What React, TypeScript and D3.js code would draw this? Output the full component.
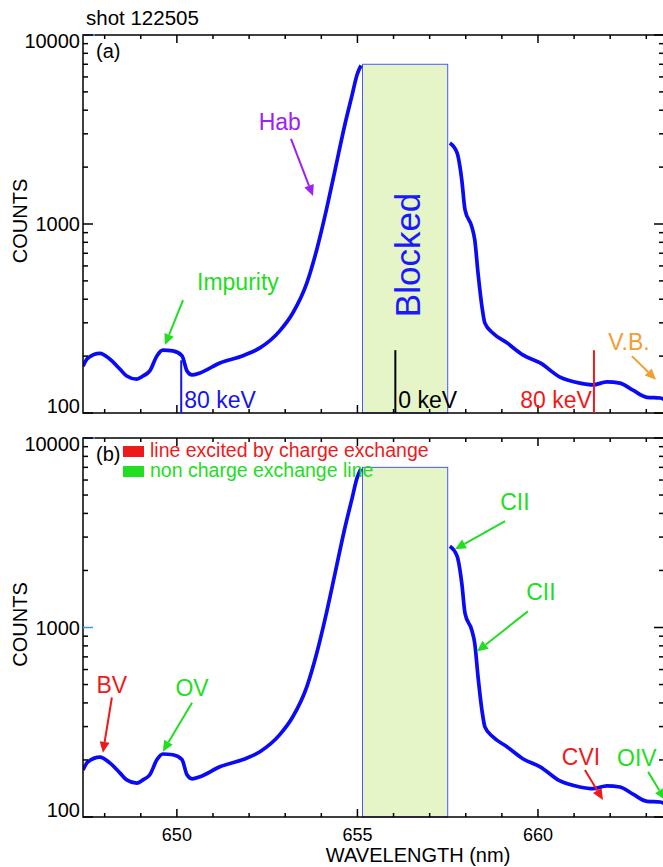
import React, { useEffect, useRef } from 'react';
import * as d3 from 'd3';

// spectrum (nm, counts); null = hidden behind the blocked band
const wavelength = [
  647.40, 647.53, 647.87, 648.14, 648.42, 648.61, 648.89, 649.06, 649.25, 649.45,
  649.61, 649.89, 650.14, 650.28, 650.42, 650.64, 651.19, 651.83, 652.30, 652.85,
  653.21, 653.60, 653.88, 654.10, 654.38, 654.65, 654.85, 654.99, 655.10, 656.30,
  657.56, 657.76, 657.89, 657.98, 658.17, 658.25, 658.34, 658.45, 658.53, 658.75,
  659.14, 659.58, 660.06, 660.61, 661.16, 661.52, 661.91, 662.27, 662.63, 663.02,
  663.38, 663.49,
];
const counts: (number | null)[] = [
  177, 195, 207, 193, 171, 157, 151, 157, 167, 201,
  215, 213, 201, 167, 159, 163, 184, 201, 221, 272,
  338, 488, 740, 1100, 1930, 3340, 4790, 6160, 6900, null,
  2683, 2377, 1710, 1187, 964, 822, 550, 364, 299, 265,
  235, 203, 184, 155, 144, 141, 146, 144, 132, 121,
  120, 118,
];

const blockedRange = [655.14, 657.5];
const blockedTop = 7000;

const xMajor = [650, 655, 660];
const xMinor = [648, 649, 651, 652, 653, 654, 656, 657, 658, 659, 661, 662, 663];
const yMajor = [100, 1000, 10000];
const yMinor = [200, 300, 400, 500, 600, 700, 800, 900, 2000, 3000, 4000, 5000, 6000, 7000, 8000, 9000];

// beam emission positions in panel (a)
const beamLines = [
  { lam: 650.12, top: 190, label: '80 keV', color: '#1515e8', anchor: 'start' },
  { lam: 656.05, top: 215, label: '0 keV', color: '#000000', anchor: 'start' },
  { lam: 661.55, top: 215, label: '80 keV', color: '#ee1a1a', anchor: 'end' },
];

// annotations: label pos, arrow tail, arrow tip (nm, counts)
const notesA = [
  { text: 'Hab', color: '#a020f0', label: [652.85, 3140], tail: [653.16, 2818], tip: [653.77, 1406], anchor: 'middle' },
  { text: 'Impurity', color: '#22dd22', label: [651.69, 448], tail: [650.17, 396], tip: [649.67, 229], anchor: 'middle' },
  { text: 'V.B.', color: '#f0a030', label: [662.52, 215], tail: [662.6, 200], tip: [663.27, 150], anchor: 'middle' },
];
const notesB = [
  { text: 'BV', color: '#ee1a1a', label: [648.2, 453], tail: [648.2, 427], tip: [647.95, 218], anchor: 'middle' },
  { text: 'OV', color: '#22dd22', label: [650.42, 437], tail: [650.42, 401], tip: [649.61, 221], anchor: 'middle' },
  { text: 'CII', color: '#22dd22', label: [659.36, 4160], tail: [659.09, 3640], tip: [657.7, 2590], anchor: 'middle' },
  { text: 'CII', color: '#22dd22', label: [660.08, 1390], tail: [659.72, 1216], tip: [658.31, 746], anchor: 'middle' },
  { text: 'CVI', color: '#ee1a1a', label: [661.19, 188], tail: [661.3, 177], tip: [661.8, 123], anchor: 'middle' },
  { text: 'OIV', color: '#22dd22', label: [662.19, 186], tail: [663.05, 173], tip: [663.52, 123], anchor: 'start' },
];

const legendItems = [
  { text: 'line excited by charge exchange', color: '#ee1a1a' },
  { text: 'non charge exchange line', color: '#22dd22' },
];

const FONT = 'Liberation Sans, Arial, Helvetica, sans-serif';
const W = 663, H = 867;
const LEFT = 83, RIGHT = 664;

export default function App() {
  const ref = useRef<SVGSVGElement>(null);

  useEffect(() => {
    const svg = d3.select(ref.current);
    svg.selectAll('*').remove();
    svg.attr('font-family', FONT);

    const x = d3.scaleLinear().domain([647.4, 663.49]).range([LEFT, RIGHT]);
    const data = wavelength.map((w, i) => ({ w, c: counts[i] }));

    svg.append('text').attr('x', 86).attr('y', 25).attr('font-size', 20.5).text('shot 122505');

    const panels = [
      { id: 'a', top: 35, bottom: 413 },
      { id: 'b', top: 438, bottom: 817 },
    ];

    const arrow = (g, x1, y1, x2, y2, color) => {
      const a = Math.atan2(y2 - y1, x2 - x1);
      const hl = 11, hw = 5;
      const bx = x2 - hl * Math.cos(a), by = y2 - hl * Math.sin(a);
      g.append('line').attr('x1', x1).attr('y1', y1).attr('x2', bx).attr('y2', by)
        .attr('stroke', color).attr('stroke-width', 2);
      g.append('path')
        .attr('d', `M${x2},${y2}L${bx - hw * Math.sin(a)},${by + hw * Math.cos(a)}L${bx + hw * Math.sin(a)},${by - hw * Math.cos(a)}Z`)
        .attr('fill', color);
    };

    panels.forEach((p) => {
      const y = d3.scaleLog().domain([100, 10000]).range([p.bottom, p.top]);
      const g = svg.append('g');

      g.append('clipPath').attr('id', 'clip-' + p.id)
        .append('rect').attr('x', LEFT).attr('y', p.top).attr('width', RIGHT - LEFT).attr('height', p.bottom - p.top);

      // blocked band
      g.append('rect')
        .attr('x', x(blockedRange[0])).attr('y', y(blockedTop))
        .attr('width', x(blockedRange[1]) - x(blockedRange[0]))
        .attr('height', p.bottom - y(blockedTop))
        .attr('fill', '#e6f5c8').attr('stroke', '#4a55ff').attr('stroke-width', 1);

      // spectrum
      const line = d3.line<any>()
        .defined((d) => d.c != null)
        .x((d) => x(d.w)).y((d) => y(d.c))
        .curve(d3.curveMonotoneX);
      g.append('path').datum(data).attr('d', line)
        .attr('clip-path', `url(#clip-${p.id})`)
        .attr('fill', 'none').attr('stroke', '#0a0af5').attr('stroke-width', 3.7)
        .attr('stroke-linejoin', 'round');

      // frame
      g.append('rect').attr('x', LEFT).attr('y', p.top).attr('width', RIGHT - LEFT).attr('height', p.bottom - p.top)
        .attr('fill', 'none').attr('stroke', '#000').attr('stroke-width', 1.5);
      g.append('line').attr('x1', LEFT).attr('x2', LEFT + 12).attr('y1', p.top).attr('y2', p.top)
        .attr('stroke', '#4a78c0').attr('stroke-width', 2);

      // x ticks
      const xt = [...xMajor.map((v) => ({ v, l: 8 })), ...xMinor.map((v) => ({ v, l: 4 }))];
      xt.forEach((t) => {
        g.append('line').attr('x1', x(t.v)).attr('x2', x(t.v)).attr('y1', p.bottom).attr('y2', p.bottom - t.l)
          .attr('stroke', '#000').attr('stroke-width', 1.5);
        g.append('line').attr('x1', x(t.v)).attr('x2', x(t.v)).attr('y1', p.top).attr('y2', p.top + t.l)
          .attr('stroke', '#000').attr('stroke-width', 1.5);
      });

      // y ticks
      const yt = [...yMajor.map((v) => ({ v, l: 10 })), ...yMinor.map((v) => ({ v, l: 5 }))];
      yt.forEach((t) => {
        const col = p.id === 'b' && t.v === 1000 ? '#3a9ad9' : '#000';
        g.append('line').attr('x1', LEFT).attr('x2', LEFT + t.l).attr('y1', y(t.v)).attr('y2', y(t.v))
          .attr('stroke', col).attr('stroke-width', 1.5);
        g.append('line').attr('x1', RIGHT).attr('x2', RIGHT - t.l).attr('y1', y(t.v)).attr('y2', y(t.v))
          .attr('stroke', '#000').attr('stroke-width', 1.5);
      });
      yMajor.forEach((v) => {
        const base = Math.min(Math.max(y(v) + 7, p.top + 13), p.bottom);
        g.append('text').attr('x', 80).attr('y', base).attr('text-anchor', 'end')
          .attr('font-size', 20).text(String(v));
      });

      g.append('text')
        .attr('transform', `translate(20,${(p.top + p.bottom) / 2 - 3}) rotate(-90)`)
        .attr('text-anchor', 'middle').attr('dy', '0.35em').attr('font-size', 20).text('COUNTS');

      g.append('text').attr('x', 96).attr('y', p.top + 23).attr('font-size', 20).text(`(${p.id})`);

      const notes = p.id === 'a' ? notesA : notesB;
      notes.forEach((n) => {
        arrow(g, x(n.tail[0]), y(n.tail[1]), x(n.tip[0]), y(n.tip[1]), n.color);
        g.append('text').attr('x', x(n.label[0])).attr('y', y(n.label[1]))
          .attr('text-anchor', n.anchor).attr('font-size', 23).attr('fill', n.color).text(n.text);
      });

      if (p.id === 'a') {
        g.append('text')
          .attr('transform', `translate(${x(656.4)},${y(686)}) rotate(-90)`)
          .attr('text-anchor', 'middle').attr('dy', '0.35em')
          .attr('font-size', 35).attr('fill', '#1a1aff').text('Blocked');

        beamLines.forEach((b) => {
          g.append('line').attr('x1', x(b.lam)).attr('x2', x(b.lam)).attr('y1', y(b.top)).attr('y2', p.bottom)
            .attr('stroke', b.color).attr('stroke-width', 2);
          g.append('text')
            .attr('x', x(b.lam) + (b.anchor === 'start' ? 3 : -2)).attr('y', p.bottom - 5)
            .attr('text-anchor', b.anchor).attr('font-size', 23).attr('fill', b.color).text(b.label);
        });
      } else {
        legendItems.forEach((it, i) => {
          g.append('rect').attr('x', 123).attr('y', 446 + i * 20).attr('width', 21).attr('height', 11).attr('fill', it.color);
          g.append('text').attr('x', 150).attr('y', 457 + i * 20).attr('font-size', 19.5).attr('fill', it.color).text(it.text);
        });

        xMajor.forEach((v) => {
          svg.append('text').attr('x', x(v)).attr('y', 841).attr('text-anchor', 'middle')
            .attr('font-size', 18).text(String(v));
        });
        svg.append('text').attr('x', x(656.68)).attr('y', 862).attr('text-anchor', 'middle')
          .attr('font-size', 20).text('WAVELENGTH (nm)');
      }
    });
  }, []);

  return (
    <svg ref={ref} width={W} height={H}
      style={{ position: 'absolute', left: 0, top: 0, background: '#fff', display: 'block' }} />
  );
}
